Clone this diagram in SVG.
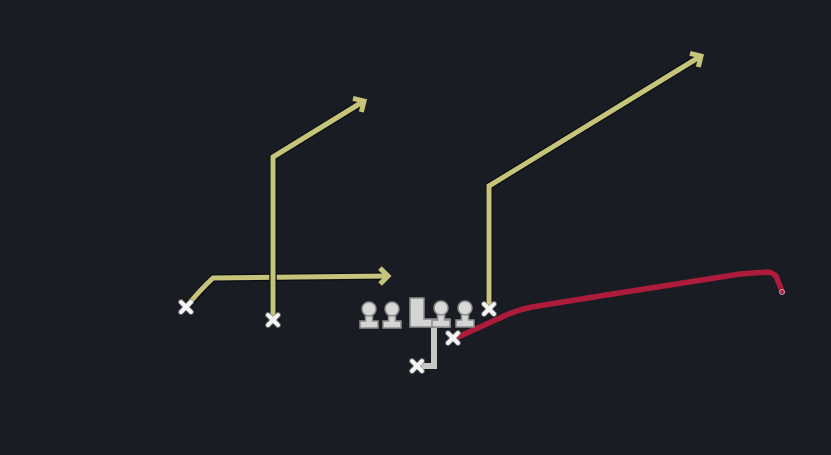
<svg xmlns="http://www.w3.org/2000/svg" width="831" height="455" viewBox="0 0 831 455">
<style>
.route{fill:none;stroke:#c6c47a;stroke-width:5;stroke-linejoin:miter;stroke-linecap:butt}
.shadow{fill:none;stroke:#0c0e12;stroke-width:7.5;stroke-linejoin:miter}
.red{fill:none;stroke:#ad1c3a;stroke-width:5.5;stroke-linecap:round;stroke-linejoin:round}
.x{stroke:#f4f4f4;stroke-width:4;stroke-linecap:round}
.xg{stroke:#8a8a8a;stroke-width:6;stroke-linecap:round;opacity:0.6}
.ol{fill:#d4d4d4;stroke:#8c8c8c;stroke-width:1.5}
.gray{fill:none;stroke:#c8c8c8;stroke-width:6}
</style>
<defs>
<marker id="arr" viewBox="0 0 14 20" refX="10" refY="10" markerWidth="14" markerHeight="20" markerUnits="userSpaceOnUse" orient="auto">
<polyline points="2,2 10,10 2,18" fill="none" stroke="#c6c47a" stroke-width="5"/>
</marker>
<g id="xmark">
<line class="xg" x1="-5" y1="-5" x2="5" y2="5"/><line class="xg" x1="5" y1="-5" x2="-5" y2="5"/>
<line class="x" x1="-5" y1="-5" x2="5" y2="5"/><line class="x" x1="5" y1="-5" x2="-5" y2="5"/>
</g>
<g id="pawn">
<path class="ol" d="M-3.5 4 L-3.5 12 L-9 12 L-9 19 L9 19 L9 12 L3.5 12 L3.5 4 Z"/>
<circle cx="0" cy="0" r="7" fill="#d8d8d8" stroke="#8c8c8c" stroke-width="1.5"/>
</g>
</defs>
<rect width="831" height="455" fill="#191c23"/>
<g id="connectors">
<path class="shadow" d="M187 306 L213 278 L388 276"/>
<path class="route" d="M187 306 Q200 290 213 278 L388 276" marker-end="url(#arr)"/>
<path class="shadow" d="M273 319 L273 157 L364 101"/>
<path class="route" d="M273 319 L273 157 L364 101" marker-end="url(#arr)"/>
<path class="shadow" d="M489 308 L489 186 L701 56"/>
<path class="route" d="M489 308 L489 186 L701 56" marker-end="url(#arr)"/>
<path class="red" d="M458 337 L500 318 Q516 310 532 307 L600 296 L740 274 L768 272 Q776 273 778 281 L782 291"/>
<circle cx="782" cy="292" r="2.5" fill="none" stroke="#e0a0b0" stroke-width="1"/>
<path class="gray" d="M421 323 L434 323 L434 366 L420 366"/>
</g>
<g id="wr-left"><use href="#xmark" x="186" y="307"/></g>
<g id="wr-slot"><use href="#xmark" x="273" y="320"/></g>
<g id="te"><use href="#xmark" x="489" y="309"/></g>
<g id="rb"><use href="#xmark" x="453" y="338"/></g>
<g id="qb"><use href="#xmark" x="417" y="366"/></g>
<g id="lt"><use href="#pawn" x="369" y="309"/></g>
<g id="lg"><use href="#pawn" x="392" y="309"/></g>
<g id="c"><path class="ol" d="M410 298 L424 298 L424 319 L450 319 L450 327 L410 327 Z"/></g>
<g id="rg"><use href="#pawn" x="441" y="308"/></g>
<g id="rt"><use href="#pawn" x="465" y="308"/></g>
</svg>
